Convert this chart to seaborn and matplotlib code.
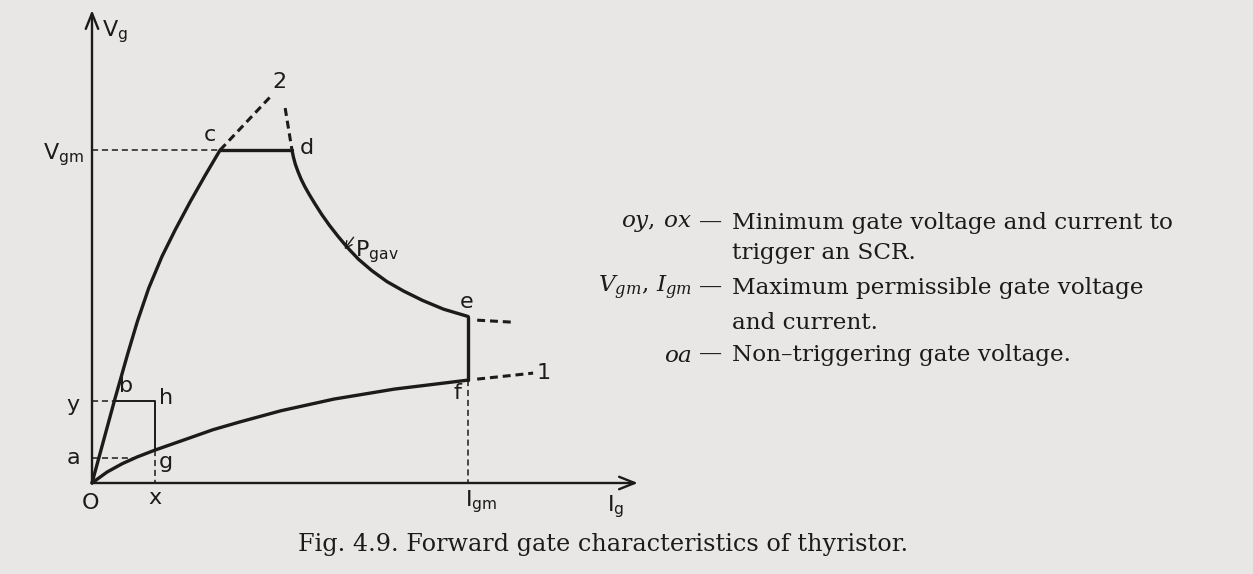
import matplotlib
matplotlib.use("Agg")
import matplotlib.pyplot as plt
import seaborn as sns

# ------------------------------
# Diagram data (Ig along x, Vg along y, arbitrary units: Vgm = 10)
# ------------------------------
vgm = 10.0
igm = 9.95
ig_axis_end = 14.44
vg_axis_end = 14.2

# O -> b -> c  (upper spread curve, towards 2)
curve2_ig = [0.0, 0.3, 0.59, 0.75, 0.95, 1.2, 1.5, 1.85, 2.2, 2.6, 3.0, 3.39]
curve2_vg = [0.0, 1.25, 2.46, 3.1, 3.9, 4.85, 5.85, 6.8, 7.6, 8.45, 9.25, 10.0]

# c -> d  (Vgm limit)
limit_ig = [3.39, 5.29]
limit_vg = [10.0, 10.0]

# d -> e  (Pgav hyperbola)
pgav_ig = [5.29, 5.33, 5.38, 5.45, 5.53, 5.63, 5.75, 5.9, 6.08, 6.28,
           6.5, 6.75, 7.05, 7.4, 7.8, 8.25, 8.75, 9.3, 9.95]
pgav_vg = [10.0, 9.78, 9.57, 9.35, 9.13, 8.9, 8.66, 8.38, 8.06, 7.74,
           7.42, 7.08, 6.72, 6.38, 6.05, 5.76, 5.48, 5.22, 5.0]

# e -> f  (Igm limit)
igm_ig = [9.95, 9.95]
igm_vg = [5.0, 3.09]

# O -> g -> f  (lower spread curve, towards 1)
curve1_ig = [0.0, 0.4, 0.8, 1.19, 1.67, 2.5, 3.2, 3.9, 5.0, 6.4, 8.0, 9.95]
curve1_vg = [0.0, 0.33, 0.58, 0.78, 0.99, 1.32, 1.6, 1.83, 2.17, 2.52, 2.82, 3.09]

# dashed continuations
to2_ig, to2_vg = [3.39, 4.76], [10.0, 11.65]
from2_ig, from2_vg = [5.11, 5.29], [11.26, 10.0]
beyond_e_ig, beyond_e_vg = [10.19, 11.11], [4.89, 4.83]
to1_ig, to1_vg = [10.19, 11.67], [3.12, 3.30]

# minimum trigger box: oy = 2.46, ox = 1.67, non-trigger oa = 0.75
vy = 2.46
vb_ig = 0.59
ix = 1.67
vg_at_x = 0.99
va_ = 0.75
ia_end = 1.13

legend_keys = [r"$oy,\,ox$", None, r"$V_{gm},\,I_{gm}$", None, r"$oa$"]
legend_lines = ["Minimum gate voltage and current to",
                "trigger an SCR.",
                "Maximum permissible gate voltage",
                "and current.",
                "Non\u2013triggering gate voltage."]
caption = "Fig. 4.9. Forward gate characteristics of thyristor."

# ------------------------------
# Figure setup
# ------------------------------
W, H = 1253, 574
sns.set_theme(style="white")
plt.rcParams['font.family'] = ['DejaVu Sans']
paper = "#e9e7e6"
ink = "#1c1a1a"

fig = plt.figure(figsize=(W / 100, H / 100), dpi=100, facecolor=paper)
ax = fig.add_axes([0, 0, 1, 1])
ax.set_facecolor(paper)
ax.set_axis_off()

# origin of the diagram at pixel (92, 483); 37.8 px per Ig unit, 33.3 px per Vg unit
ax.set_xlim(-92 / 37.8, (W - 92) / 37.8)
ax.set_ylim(-(H - 483) / 33.3, 483 / 33.3)


def fx(px):
    return px / W


def fy(py):
    return 1 - py / H


# axes with arrows
arrow = dict(arrowstyle="->,head_length=0.7,head_width=0.28", lw=1.7, color=ink,
             shrinkA=0, shrinkB=0, mutation_scale=16)
ax.annotate("", xy=(0, vg_axis_end), xytext=(0, 0), arrowprops=arrow)
ax.annotate("", xy=(ig_axis_end, 0), xytext=(0, 0), arrowprops=arrow)


def solid(x, y, lw=2.4):
    sns.lineplot(x=x, y=y, sort=False, estimator=None, color=ink, lw=lw, ax=ax)


def dashed(x, y, lw=1.1, dash=(4, 2.5)):
    sns.lineplot(x=x, y=y, sort=False, estimator=None, color=ink, lw=lw,
                 dashes=False, linestyle=(0, dash), ax=ax)


# main boundary
solid(curve2_ig, curve2_vg)
solid(limit_ig, limit_vg)
solid(pgav_ig, pgav_vg)
solid(igm_ig, igm_vg)
solid(curve1_ig, curve1_vg)

# thick dashed continuations
for xs, ys in [(to2_ig, to2_vg), (from2_ig, from2_vg),
               (beyond_e_ig, beyond_e_vg), (to1_ig, to1_vg)]:
    dashed(xs, ys, lw=2.2, dash=(2.6, 1.6))

# thin construction lines
dashed([0, limit_ig[0]], [vgm, vgm])
dashed([0, vb_ig], [vy, vy])
dashed([0, ia_end], [va_, va_])
dashed([ix, ix], [vg_at_x, 0])
dashed([igm, igm], [igm_vg[1], 0])
solid([vb_ig, ix, ix], [vy, vy, vg_at_x], lw=1.4)

# point labels
lab_fs = 16
point_labels = [
    (r"$\mathregular{V_g}$", 0.27, 13.55, "left"),
    (r"$\mathregular{V_{gm}}$", -0.2, 9.85, "right"),
    ("c", 3.12, 10.45, "center"),
    ("d", 5.69, 10.05, "center"),
    ("2", 4.97, 12.04, "center"),
    (r"$\mathregular{P_{gav}}$", 6.95, 6.95, "left"),
    ("e", 9.92, 5.45, "center"),
    ("f", 9.66, 2.7, "center"),
    ("1", 11.95, 3.3, "center"),
    ("b", 0.9, 2.9, "center"),
    ("y", -0.5, 2.35, "center"),
    ("h", 1.95, 2.55, "center"),
    ("a", -0.5, 0.75, "center"),
    ("g", 1.95, 0.63, "center"),
    ("O", -0.05, -0.6, "center"),
    ("x", 1.67, -0.45, "center"),
    (r"$\mathregular{I_{gm}}$", 10.3, -0.55, "center"),
    (r"$\mathregular{I_g}$", 13.85, -0.7, "center"),
]
for txt, x, y, ha in point_labels:
    ax.text(x, y, txt, fontsize=lab_fs, color=ink, ha=ha, va="center",
            math_fontfamily="dejavusans")

ax.annotate("", xy=(6.68, 7.02), xytext=(6.92, 7.38),
            arrowprops=dict(arrowstyle="->,head_length=0.4,head_width=0.2",
                            lw=1.0, color=ink, shrinkA=0, shrinkB=0,
                            mutation_scale=12))

# ------------------------------
# Legend text block and caption
# ------------------------------
renderer = fig.canvas.get_renderer()


def fit(t, target_px):
    w = t.get_window_extent(renderer=renderer).width
    t.set_fontsize(t.get_fontsize() * target_px / w)
    return t.get_fontsize()


probe = fig.text(fx(732), fy(223), legend_lines[0], family="DejaVu Serif",
                 fontsize=16, color=ink, ha="left", va="center")
body_fs = fit(probe, 443)
probe.remove()

line_y = [223, 253, 288, 323, 355]
for key, line, py in zip(legend_keys, legend_lines, line_y):
    fig.text(fx(732), fy(py), line, family="DejaVu Serif", fontsize=body_fs,
             color=ink, ha="left", va="center")
    if key is not None:
        fig.text(fx(692), fy(py), key, fontsize=body_fs, color=ink, ha="right",
                 va="center", math_fontfamily="dejavuserif")
        fig.text(fx(711), fy(py), "\u2014", family="DejaVu Serif",
                 fontsize=body_fs, color=ink, ha="center", va="center")

cap = fig.text(fx(298), fy(545), "Fig. 4.9. Forward gate characteristics of th",
               family="DejaVu Serif", fontsize=16, color=ink, ha="left",
               va="center")
fit(cap, 522)
cap.set_text(caption)

fig.savefig("out.png", dpi=100, facecolor=paper)
